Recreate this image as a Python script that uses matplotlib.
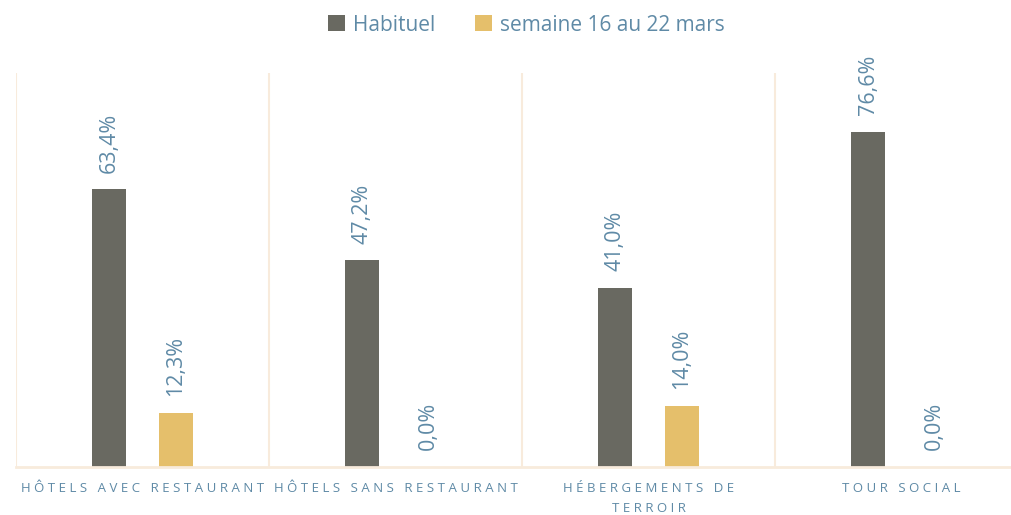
import numpy as np
import matplotlib.pyplot as plt

categories = ['HÔTELS AVEC RESTAURANT', 'HÔTELS SANS RESTAURANT',
              'HÉBERGEMENTS DE\nTERROIR', 'TOUR SOCIAL']
habituel = [63.4, 47.2, 41.0, 76.6]
semaine = [12.3, 0.0, 14.0, 0.0]
series_names = ['Habituel', 'semaine 16 au 22 mars']

c_dark = '#696961'
c_yellow = '#e5bf6b'
c_text = '#5f8aa6'
c_line = '#f8ebdc'

plt.rcParams['font.family'] = ['Open Sans', 'DejaVu Sans']


def spaced(s):
    # imitate the letter spacing of the axis labels
    lines = []
    for line in s.split('\n'):
        words = [' '.join(w) for w in line.split(' ')]
        lines.append('   '.join(words))
    return '\n'.join(lines)


fig = plt.figure(figsize=(10.11, 5.15), dpi=100)
# plot area runs past the right edge of the picture, as in the original
ax = fig.add_axes([16 / 1011, 48 / 515, 1012 / 1011, 394 / 515])

x = np.arange(len(categories))
w = 0.134
off = 0.131
b1 = ax.bar(x - off, habituel, w, color=c_dark, label=series_names[0])
b2 = ax.bar(x + off, semaine, w, color=c_yellow, label=series_names[1])

for bars, vals in [(b1, habituel), (b2, semaine)]:
    for r, v in zip(bars, vals):
        ax.annotate(f'{v:.1f}%'.replace('.', ','),
                    (r.get_x() + r.get_width() / 2, v),
                    xytext=(0, 12), textcoords='offset points',
                    rotation=90, ha='center', va='bottom',
                    fontsize=15.5, color=c_text)

ax.set_xlim(-0.5, len(categories) - 0.5)
ax.set_ylim(0, 90)

# category separators
for k in range(len(categories) + 1):
    ax.axvline(k - 0.5, color=c_line, lw=1.5, zorder=0)

for s in ['top', 'right', 'left']:
    ax.spines[s].set_visible(False)
ax.spines['bottom'].set_color(c_line)
ax.spines['bottom'].set_linewidth(2)
ax.set_yticks([])
ax.set_xticks(x)
ax.set_xticklabels([spaced(c) for c in categories], fontsize=9.5,
                   color=c_text, linespacing=1.7)
ax.tick_params(axis='x', length=0, pad=11)

leg = fig.legend(loc='upper center', bbox_to_anchor=(0.521, 1.0), ncol=2,
                 frameon=False, fontsize=15, handlelength=0.8,
                 handleheight=0.8, handletextpad=0.4, columnspacing=1.9,
                 borderaxespad=0.3)
for t in leg.get_texts():
    t.set_color(c_text)

fig.savefig('out.png', dpi=100)
